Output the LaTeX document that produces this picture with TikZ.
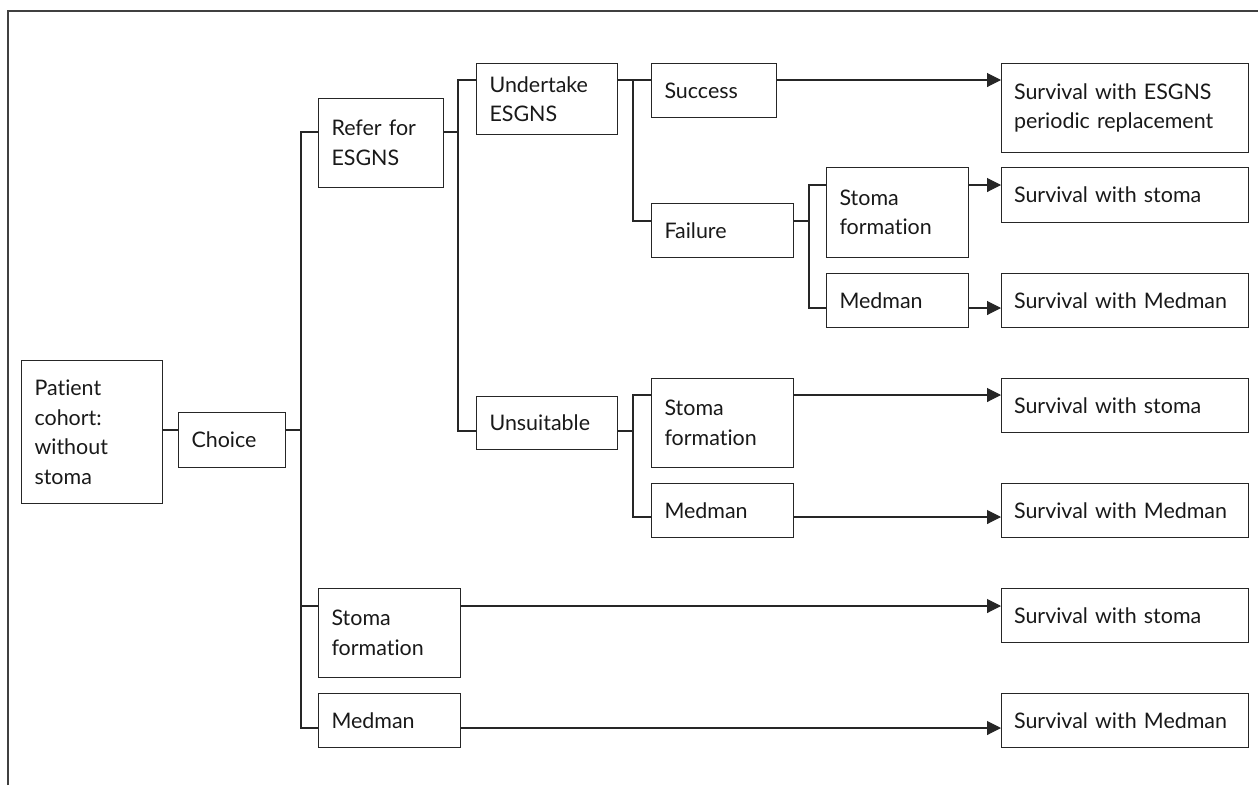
\documentclass[tikz,border=0pt]{standalone}
\usepackage{fontspec}
\setmainfont{Lato}[Ligatures=NoCommon]
\usetikzlibrary{arrows.meta}

\tikzset{
  box/.style 2 args={draw=black!85, line width=0.6pt, anchor=north west,
    inner xsep=0.26cm, inner ysep=0pt, text=black!90,
    minimum width=#1*0.02cm, minimum height=#2*0.02cm,
    text width=#1*0.02cm-0.52cm, align=left,
    font=\fontsize{12.2}{16.8}\selectfont},
  outc/.style={box={247}{#1}, inner xsep=0.25cm, text width=4.44cm},
  link/.style={draw=black!85, line width=0.6pt},
  arr/.style={link, -{Triangle[length=0.28cm, width=0.28cm]}}
}

\begin{document}
\begin{tikzpicture}[x=0.02cm, y=-0.02cm]
    \useasboundingbox (0,0) rectangle (1258,785);
    \draw[line width=0.8pt, black!75] (8,785) -- (8,11) -- (1258,11);

    % decision tree
    \node[box={141}{143}] (patient) at (21,360) {Patient\\cohort:\\without\\stoma};
    \node[box={107}{55}] (choice) at (178,412) {Choice};
    \node[box={125}{89}] (refer) at (318,98) {Refer for\\ESGNS};
    \node[box={142}{89}] (stomaC) at (318,588) {Stoma\\formation};
    \node[box={142}{54}] (medmanC) at (318,693) {Medman};
    \node[box={141}{71}] (undertake) at (476,63) {Undertake\\ESGNS};
    \node[box={141}{53}] (unsuit) at (476,396) {Unsuitable};
    \node[box={125}{54}] (success) at (651,63) {Success};
    \node[box={142}{54}] (failure) at (651,203) {Failure};
    \node[box={142}{89}] (stomaU) at (651,378) {Stoma\\formation};
    \node[box={142}{54}] (medmanU) at (651,483) {Medman};
    \node[box={142}{90}] (stomaF) at (826,167) {Stoma\\formation};
    \node[box={142}{54}] (medmanF) at (826,273) {Medman};

    % outcomes
    \node[outc={89}] (survE) at (1001,63) {Survival with ESGNS\\periodic replacement};
    \node[outc={55}] (survSF) at (1001,167) {Survival with stoma};
    \node[outc={54}] (survMF) at (1001,273) {Survival with Medman};
    \node[outc={54}] (survSU) at (1001,378) {Survival with stoma};
    \node[outc={54}] (survMU) at (1001,483) {Survival with Medman};
    \node[outc={54}] (survSC) at (1001,588) {Survival with stoma};
    \node[outc={54}] (survMC) at (1001,693) {Survival with Medman};

    % branches
    \path[link] (patient.east |- 0,430) -- (choice.west |- 0,430);
    \path[link] (choice.east |- 0,430) -- (301,430);
    \path[link] (refer.west |- 0,132) -| (301,728) -- (medmanC.west |- 0,728);
    \path[link] (301,606) -- (stomaC.west |- 0,606);
    \path[link] (refer.east |- 0,132) -- (458,132);
    \path[link] (undertake.west |- 0,80) -| (458,431) -- (unsuit.west |- 0,431);
    \path[link] (undertake.east |- 0,80) -- (success.west |- 0,80);
    \path[link] (633,80) |- (failure.west |- 0,221);
    \path[link] (failure.east |- 0,221) -- (809,221);
    \path[link] (stomaF.west |- 0,185) -| (809,308) -- (medmanF.west |- 0,308);
    \path[link] (unsuit.east |- 0,431) -- (633,431);
    \path[link] (stomaU.west |- 0,395) -| (633,517) -- (medmanU.west |- 0,517);

    % to outcomes
    \path[arr] (success.east |- 0,80) -- (survE.west |- 0,80);
    \path[arr] (stomaF.east |- 0,185) -- (survSF.west |- 0,185);
    \path[arr] (medmanF.east |- 0,308) -- (survMF.west |- 0,308);
    \path[arr] (stomaU.east |- 0,395) -- (survSU.west |- 0,395);
    \path[arr] (medmanU.east |- 0,517) -- (survMU.west |- 0,517);
    \path[arr] (stomaC.east |- 0,606) -- (survSC.west |- 0,606);
    \path[arr] (medmanC.east |- 0,728) -- (survMC.west |- 0,728);
\end{tikzpicture}
\end{document}
